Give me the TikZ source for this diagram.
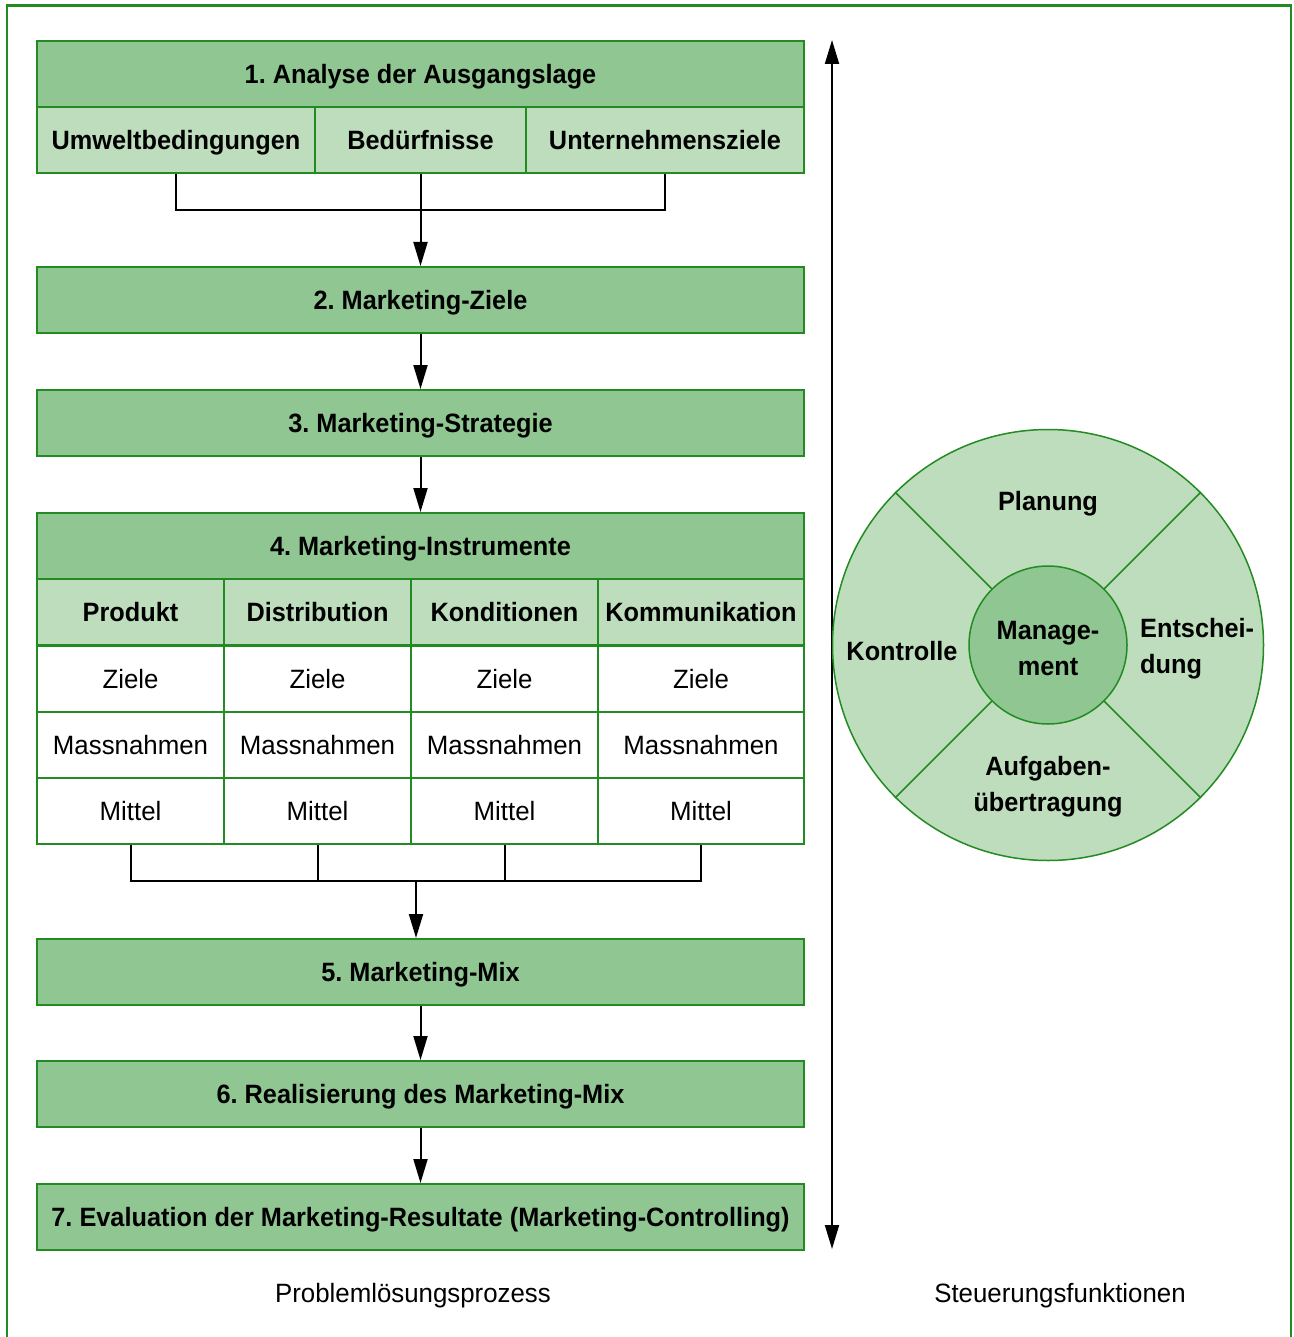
\documentclass[tikz,border=0pt]{standalone}
\usepackage{fontspec}
\setmainfont{Liberation Sans}[FakeStretch=0.975, BoldFeatures={FakeStretch=0.955}]
\usetikzlibrary{arrows.meta}
\frenchspacing
\definecolor{framegreen}{RGB}{34,139,34}
\definecolor{hdrgreen}{RGB}{144,198,146}
\definecolor{palegreen}{RGB}{190,221,189}
\newcommand{\txtsize}{\fontsize{26.5}{36}\selectfont}
\tikzset{
  boxbase/.style={draw=framegreen, line width=2pt, inner sep=0pt, anchor=north west,
                  minimum height=66pt, text depth=0pt},
  hdr/.style={boxbase, fill=hdrgreen, font=\txtsize\bfseries},
  sub/.style={boxbase, fill=palegreen, font=\txtsize\bfseries},
  cell/.style={boxbase, fill=white, font=\txtsize},
  link/.style={line width=2pt, black},
  arr/.style={link, -{Triangle[length=24pt,width=14pt]}},
  darr/.style={link, {Triangle[length=24pt,width=14pt]}-{Triangle[length=24pt,width=14pt]}},
  wheel/.style={circle, draw=framegreen, line width=1.5pt, inner sep=0pt},
  lbl/.style={font=\txtsize\bfseries, align=center, inner sep=0pt},
  caption/.style={font=\txtsize, inner sep=0pt}
}
\begin{document}
\begin{tikzpicture}[x=1pt, y=-1pt]
\useasboundingbox (0,0) rectangle (1293,1337);
% frame, open at the bottom
\draw[framegreen, line width=2.5pt] (7,1337) -- (7,5.5) -- (1291,5.5) -- (1291,1337);

% 1. Analyse
\node[hdr, minimum width=767pt] (a1) at (36,40) {1. Analyse der Ausgangslage};
\node[sub, minimum width=278pt] (u1) at (36,106) {Umweltbedingungen};
\node[sub, minimum width=211pt] (u2) at (314,106) {Bedürfnisse};
\node[sub, minimum width=278pt] (u3) at (525,106) {Unternehmensziele};

% 2. / 3.
\node[hdr, minimum width=767pt] (a2) at (36,266) {2. Marketing-Ziele};
\node[hdr, minimum width=767pt] (a3) at (36,389) {3. Marketing-Strategie};

% 4. Marketing-Instrumente with table
\node[hdr, minimum width=767pt] (a4) at (36,512) {4. Marketing-Instrumente};
\node[sub, minimum width=187pt] (p0) at (36,578) {Produkt};
\node[sub, minimum width=187pt] (d0) at (223,578) {Distribution};
\node[sub, minimum width=187pt] (k0) at (410,578) {Konditionen};
\node[sub, minimum width=206pt] (m0) at (597,578) {Kommunikation};
\foreach \c/\x/\w in {p/36/187, d/223/187, k/410/187, m/597/206}{
  \node[cell, minimum width=\w pt] (\c1) at (\x,645) {Ziele};
  \node[cell, minimum width=\w pt] (\c2) at (\x,711) {Massnahmen};
  \node[cell, minimum width=\w pt] (\c3) at (\x,777) {Mittel};
}

% 5. - 7.
\node[hdr, minimum width=767pt] (a5) at (36,938) {5. Marketing-Mix};
\node[hdr, minimum width=767pt] (a6) at (36,1060) {6. Realisierung des Marketing-Mix};
\node[hdr, minimum width=767pt] (a7) at (36,1183) {7. Evaluation der Marketing-Resultate (Marketing-Controlling)};

% connectors
\coordinate (j1) at (419.5,210);
\draw[link] (u1.south) |- (j1) -| (u3.south);
\draw[arr] (u2.south) -- (u2.south |- a2.north);
\draw[arr] (a2.south) -- (a3.north);
\draw[arr] (a3.south) -- (a4.north);
\coordinate (j2) at (416,881);
\draw[link] (p3.south) |- (j2) -| (m3.south);
\draw[link] (d3.south) -- (d3.south |- j2);
\draw[link] (k3.south) -- (k3.south |- j2);
\draw[arr] (j2) -- (j2 |- a5.north);
\draw[arr] (a5.south) -- (a6.north);
\draw[arr] (a6.south) -- (a7.north);

% control axis
\coordinate (vt) at (832,40);
\coordinate (vb) at (832,1249);
\draw[darr] (vb) -- (vt);

% management wheel
\node[wheel, fill=palegreen, minimum size=431pt] (outer) at (1048,645) {};
\foreach \a in {45,135,225,315}{
  \draw[framegreen, line width=1.5pt] (outer.center) ++(\a:79pt) coordinate (s\a) -- (outer.\a);
}
\node[wheel, fill=hdrgreen, minimum size=158pt] (inner) at (1048,645) {};
\node[lbl] (mg) at (1048,649) {Manage-\\ment};
\node[lbl] (pl) at (1048,504) {Planung};
\node[lbl] (ko) at (902,651) {Kontrolle};
\node[lbl, align=left, anchor=west] (en) at (1140,649) {Entschei-\\dung};
\node[lbl] (au) at (1048,787) {Aufgaben-\\übertragung};

% captions
\node[caption] (c1) at (413,1296) {Problemlösungsprozess};
\node[caption] (c2) at (1060,1296) {Steuerungsfunktionen};
\end{tikzpicture}
\end{document}
